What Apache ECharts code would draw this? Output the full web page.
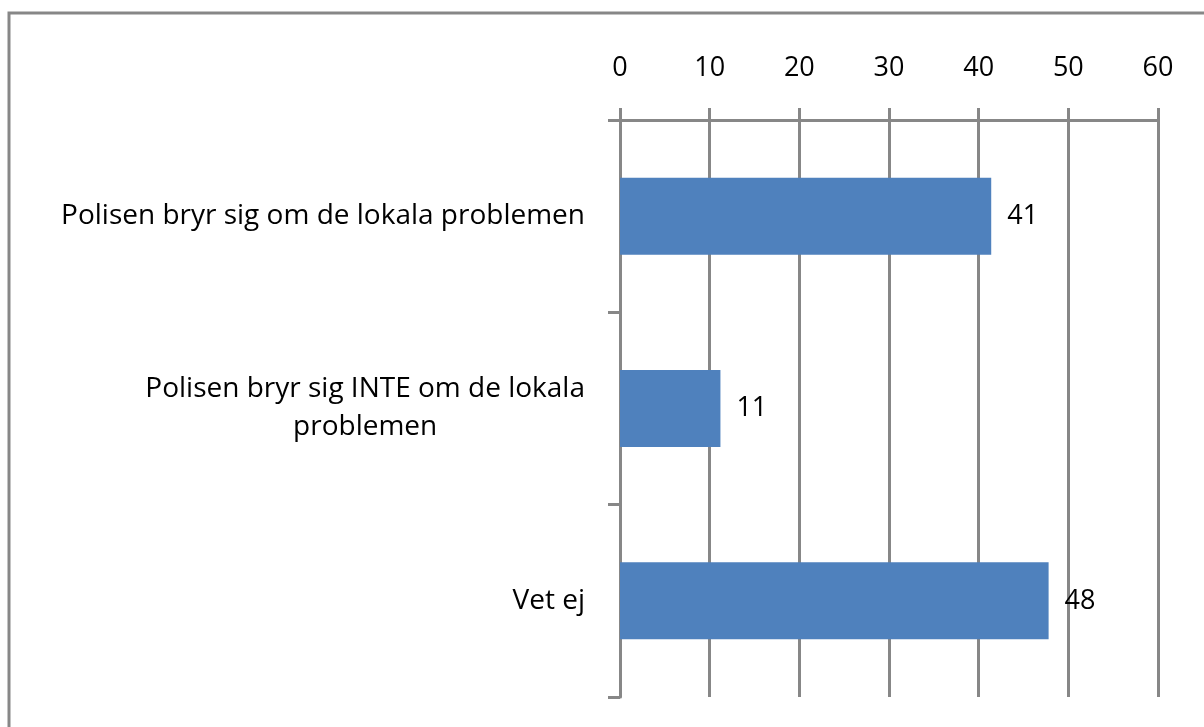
<!DOCTYPE html>
<html>
<head>
<meta charset="utf-8">
<style>
html,body{margin:0;padding:0;background:#fff;}
#chart{width:1204px;height:727px;}
</style>
<script src="https://cdn.jsdelivr.net/npm/echarts@6/dist/echarts.min.js"></script>
</head>
<body>
<div id="chart"></div>
<script>
const categories = [
  'Polisen bryr sig om de lokala problemen',
  'Polisen bryr sig INTE om de lokala\nproblemen',
  'Vet ej'
];
const values = [41.4, 11.2, 47.8];
const axisMin = 0, axisMax = 60, axisStep = 10;

const GRAY = '#878787';
const FONT = 'Open Sans';

const chart = echarts.init(document.getElementById('chart'));
chart.setOption({
  animation: false,
  backgroundColor: '#fff',
  graphic: [{
    type: 'rect',
    shape: { x: 9, y: 13, width: 1220, height: 740 },
    style: { fill: 'none', stroke: GRAY, lineWidth: 3 },
    silent: true
  }],
  grid: { left: 620, right: 46, top: 120, bottom: 30, containLabel: false },
  xAxis: {
    type: 'value',
    position: 'top',
    min: axisMin, max: axisMax, interval: axisStep,
    axisLine: { show: true, lineStyle: { color: GRAY, width: 3 } },
    axisTick: { show: true, length: 12, lineStyle: { color: GRAY, width: 3 } },
    axisLabel: { margin: 38, color: '#000', fontFamily: FONT, fontSize: 27 },
    splitLine: { show: true, lineStyle: { color: GRAY, width: 3 } }
  },
  yAxis: {
    type: 'category',
    inverse: true,
    data: categories,
    axisLine: { show: true, lineStyle: { color: GRAY, width: 3 } },
    axisTick: { show: true, length: 12, lineStyle: { color: GRAY, width: 3 } },
    axisLabel: {
      margin: 35,
      color: '#000',
      fontFamily: FONT,
      fontSize: 28,
      lineHeight: 38,
      align: 'right',
      formatter: v => '{a|' + v.split('\n').join('}\n{a|') + '}',
      rich: { a: { align: 'center', fontFamily: FONT, fontSize: 28, lineHeight: 38, color: '#000' } }
    }
  },
  series: [{
    type: 'bar',
    data: values,
    barWidth: '40%',
    itemStyle: { color: '#4F81BD' },
    label: {
      show: true,
      position: 'right',
      distance: 16,
      color: '#000',
      fontFamily: FONT,
      fontSize: 27,
      formatter: p => Math.round(p.value)
    }
  }]
});
</script>
</body>
</html>
